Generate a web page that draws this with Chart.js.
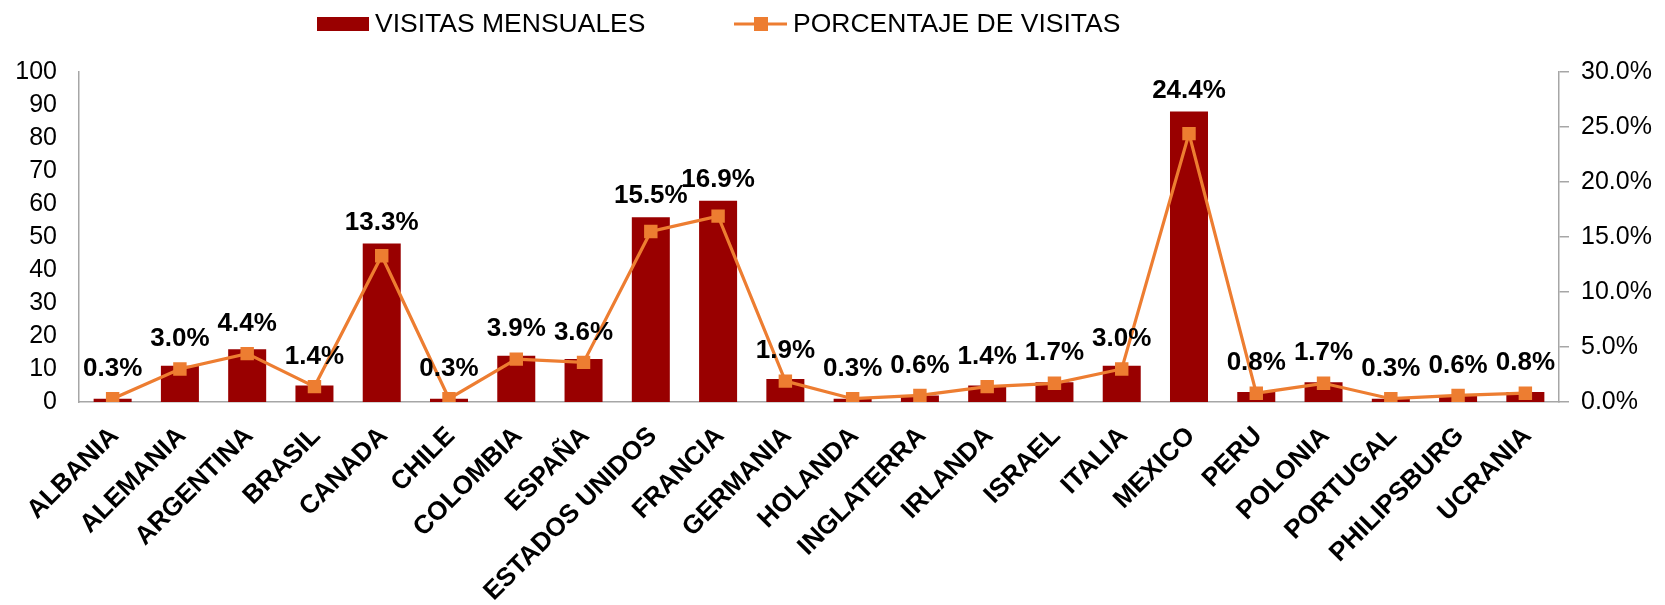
<!DOCTYPE html>
<html>
<head>
<meta charset="utf-8">
<script src="https://cdn.jsdelivr.net/npm/chart.js@4.4.1/dist/chart.umd.min.js"></script>
<style>
  html, body { margin: 0; padding: 0; background: #ffffff; }
  #wrap { width: 1665px; height: 605px; position: relative; }
</style>
</head>
<body>
<div id="wrap"><canvas id="c" width="1665" height="605"></canvas></div>
<script>
const categories = ["ALBANIA","ALEMANIA","ARGENTINA","BRASIL","CANADA","CHILE","COLOMBIA","ESPAÑA","ESTADOS UNIDOS","FRANCIA","GERMANIA","HOLANDA","INGLATERRA","IRLANDA","ISRAEL","ITALIA","MEXICO","PERU","POLONIA","PORTUGAL","PHILIPSBURG","UCRANIA"];
const visitasMensuales = [1,11,16,5,48,1,14,13,56,61,7,1,2,5,6,11,88,3,6,1,2,3];
const porcentajeVisitas = [0.3,3.0,4.4,1.4,13.3,0.3,3.9,3.6,15.5,16.9,1.9,0.3,0.6,1.4,1.7,3.0,24.4,0.8,1.7,0.3,0.6,0.8];
const seriesNames = ["VISITAS MENSUALES","PORCENTAJE DE VISITAS"];

const FONT = "'Liberation Sans', Arial, sans-serif";
Chart.defaults.font.family = FONT;
Chart.defaults.color = '#000';

const BAR_COLOR = '#990000';
const LINE_COLOR = '#ED7D31';
const AXIS_COLOR = '#a6a6a6';

// data labels above line points
const dataLabels = {
  id: 'dataLabels',
  afterDatasetsDraw(chart) {
    const ctx = chart.ctx;
    const lineMeta = chart.getDatasetMeta(1);
    const barMeta = chart.getDatasetMeta(0);
    ctx.save();
    ctx.font = "bold 26px " + FONT;
    ctx.fillStyle = '#000';
    ctx.textAlign = 'center';
    ctx.textBaseline = 'middle';
    lineMeta.data.forEach((pt, i) => {
      const barTop = barMeta.data[i].y;
      const y = Math.min(pt.y - 30, barTop - 21);
      ctx.fillText(porcentajeVisitas[i].toFixed(1) + '%', pt.x, y);
    });
    ctx.restore();
  }
};

// rotated category labels, placed at the x scale's tick positions
const categoryLabels = {
  id: 'categoryLabels',
  afterDraw(chart) {
    const ctx = chart.ctx;
    const xs = chart.scales.x;
    ctx.save();
    ctx.font = "bold 26px " + FONT;
    ctx.fillStyle = '#000';
    ctx.textAlign = 'right';
    ctx.textBaseline = 'middle';
    chart.data.labels.forEach((lab, i) => {
      const x = xs.getPixelForTick(i);
      ctx.save();
      ctx.translate(x + 2, xs.top + 30);
      ctx.rotate(-Math.PI / 4);
      ctx.fillText(lab, 0, 0);
      ctx.restore();
    });
    ctx.restore();
  }
};

const customLegend = {
  id: 'customLegend',
  afterDraw(chart) {
    const ctx = chart.ctx;
    ctx.save();
    ctx.font = "26.5px " + FONT;
    ctx.textBaseline = 'middle';
    const cy = 24;
    ctx.fillStyle = chart.data.datasets[0].backgroundColor;
    ctx.fillRect(317, 17, 52, 14);
    ctx.fillStyle = '#000';
    ctx.fillText(chart.data.datasets[0].label, 375, cy + 1);
    ctx.strokeStyle = chart.data.datasets[1].borderColor;
    ctx.lineWidth = 3;
    ctx.beginPath();
    ctx.moveTo(734, cy); ctx.lineTo(787, cy);
    ctx.stroke();
    ctx.fillStyle = chart.data.datasets[1].pointBackgroundColor;
    ctx.fillRect(754, cy - 7, 14, 14);
    ctx.fillStyle = '#000';
    ctx.fillText(chart.data.datasets[1].label, 793, cy + 1);
    ctx.restore();
  }
};

new Chart(document.getElementById('c'), {
  type: 'bar',
  data: {
    labels: categories,
    datasets: [
      {
        type: 'bar',
        label: seriesNames[0],
        data: visitasMensuales,
        backgroundColor: BAR_COLOR,
        yAxisID: 'y',
        categoryPercentage: 0.565,
        barPercentage: 1.0,
        order: 2
      },
      {
        type: 'line',
        label: seriesNames[1],
        data: porcentajeVisitas,
        borderColor: LINE_COLOR,
        backgroundColor: LINE_COLOR,
        pointBackgroundColor: LINE_COLOR,
        pointBorderColor: LINE_COLOR,
        pointStyle: 'rect',
        pointRadius: 9.5,
        pointBorderWidth: 0,
        borderWidth: 3.2,
        tension: 0,
        yAxisID: 'y1',
        order: 1
      }
    ]
  },
  options: {
    responsive: false,
    animation: false,
    layout: { padding: { top: 72, left: 15, right: 13, bottom: 203 } },
    plugins: {
      legend: { display: false },
      tooltip: { enabled: false }
    },
    scales: {
      x: {
        grid: { display: false, drawTicks: false },
        border: { color: AXIS_COLOR, width: 1.5 },
        ticks: { display: false }
      },
      y: {
        position: 'left',
        min: 0, max: 100,
        afterFit: (s) => { s.width = 64; },
        grid: { display: false, drawTicks: false },
        border: { color: AXIS_COLOR, width: 1.5 },
        ticks: { stepSize: 10, autoSkip: false, padding: 22, color: '#000', font: { size: 25 } }
      },
      y1: {
        position: 'right',
        min: 0, max: 30,
        afterFit: (s) => { s.width = 93; },
        grid: { drawOnChartArea: false, color: AXIS_COLOR, tickLength: 10, lineWidth: 1.5 },
        border: { color: AXIS_COLOR, width: 1.5 },
        ticks: {
          stepSize: 5, autoSkip: false, padding: 12, color: '#000', font: { size: 25 },
          callback: (v) => Number(v).toFixed(1) + '%'
        }
      }
    }
  },
  plugins: [dataLabels, categoryLabels, customLegend]
});
</script>
</body>
</html>
